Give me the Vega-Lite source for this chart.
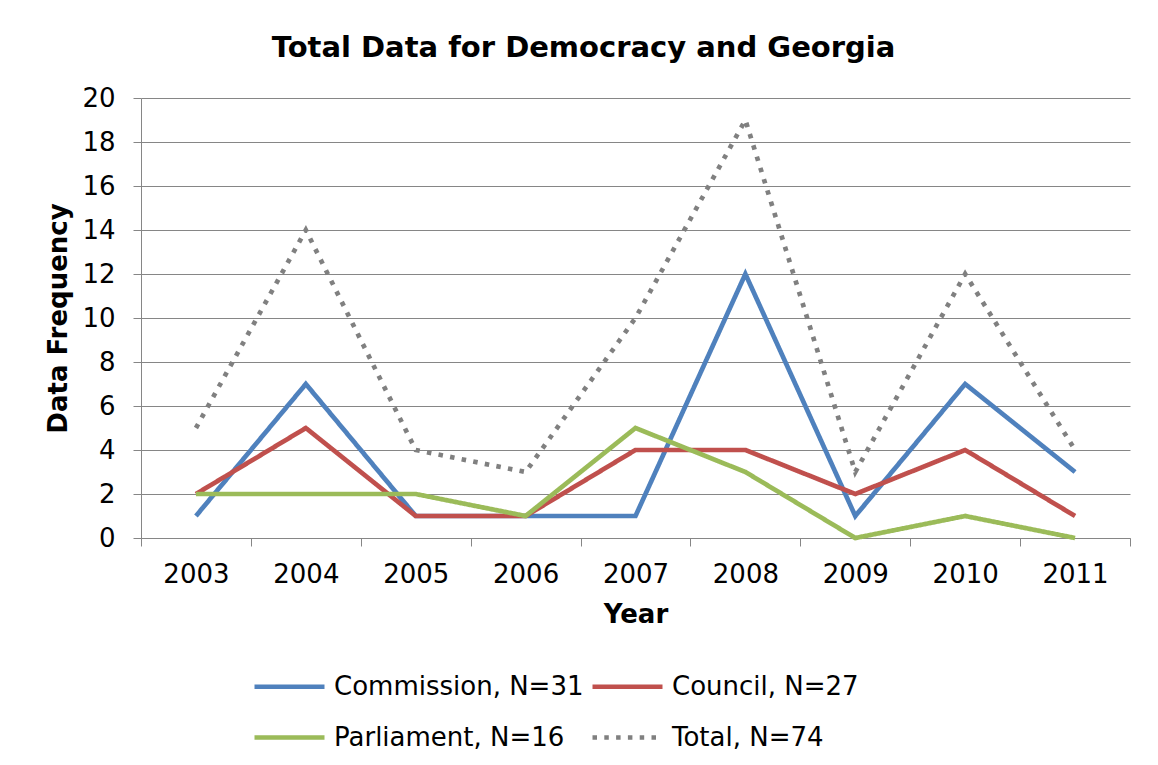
{
  "$schema": "https://vega.github.io/schema/vega-lite/v6.json",
  "width": 989,
  "height": 440,
  "autosize": {"type": "none"},
  "padding": {"left": 141, "top": 98, "right": 28, "bottom": 227},
  "background": "white",
  "title": {
    "text": "Total Data for Democracy and Georgia",
    "font": "DejaVu Sans",
    "fontSize": 29,
    "fontWeight": "bold",
    "color": "black",
    "anchor": "middle",
    "dx": -52,
    "offset": 22
  },
  "config": {
    "view": {"stroke": null},
    "font": "DejaVu Sans"
  },
  "data": {
    "values": [
      {"year": "2003", "series": "Commission, N=31", "value": 1},
      {"year": "2004", "series": "Commission, N=31", "value": 7},
      {"year": "2005", "series": "Commission, N=31", "value": 1},
      {"year": "2006", "series": "Commission, N=31", "value": 1},
      {"year": "2007", "series": "Commission, N=31", "value": 1},
      {"year": "2008", "series": "Commission, N=31", "value": 12},
      {"year": "2009", "series": "Commission, N=31", "value": 1},
      {"year": "2010", "series": "Commission, N=31", "value": 7},
      {"year": "2011", "series": "Commission, N=31", "value": 3},
      {"year": "2003", "series": "Council, N=27", "value": 2},
      {"year": "2004", "series": "Council, N=27", "value": 5},
      {"year": "2005", "series": "Council, N=27", "value": 1},
      {"year": "2006", "series": "Council, N=27", "value": 1},
      {"year": "2007", "series": "Council, N=27", "value": 4},
      {"year": "2008", "series": "Council, N=27", "value": 4},
      {"year": "2009", "series": "Council, N=27", "value": 2},
      {"year": "2010", "series": "Council, N=27", "value": 4},
      {"year": "2011", "series": "Council, N=27", "value": 1},
      {"year": "2003", "series": "Parliament, N=16", "value": 2},
      {"year": "2004", "series": "Parliament, N=16", "value": 2},
      {"year": "2005", "series": "Parliament, N=16", "value": 2},
      {"year": "2006", "series": "Parliament, N=16", "value": 1},
      {"year": "2007", "series": "Parliament, N=16", "value": 5},
      {"year": "2008", "series": "Parliament, N=16", "value": 3},
      {"year": "2009", "series": "Parliament, N=16", "value": 0},
      {"year": "2010", "series": "Parliament, N=16", "value": 1},
      {"year": "2011", "series": "Parliament, N=16", "value": 0},
      {"year": "2003", "series": "Total, N=74", "value": 5},
      {"year": "2004", "series": "Total, N=74", "value": 14},
      {"year": "2005", "series": "Total, N=74", "value": 4},
      {"year": "2006", "series": "Total, N=74", "value": 3},
      {"year": "2007", "series": "Total, N=74", "value": 10},
      {"year": "2008", "series": "Total, N=74", "value": 19},
      {"year": "2009", "series": "Total, N=74", "value": 3},
      {"year": "2010", "series": "Total, N=74", "value": 12},
      {"year": "2011", "series": "Total, N=74", "value": 4}
    ]
  },
  "mark": {"type": "line", "strokeWidth": 4.7, "strokeCap": "butt", "strokeJoin": "miter"},
  "encoding": {
    "x": {
      "field": "year",
      "type": "ordinal",
      "scale": {"type": "band", "paddingInner": 0, "paddingOuter": 0},
      "axis": {
        "title": "Year",
        "titleFont": "DejaVu Sans",
        "titleFontSize": 26,
        "titleFontWeight": "bold",
        "titleColor": "black",
        "titlePadding": 14,
        "labelFont": "DejaVu Sans",
        "labelFontSize": 26,
        "labelColor": "black",
        "labelAngle": 0,
        "labelPadding": 15,
        "tickBand": "extent",
        "tickSize": 8,
        "tickColor": "#868686",
        "domainColor": "#868686",
        "grid": false
      }
    },
    "y": {
      "field": "value",
      "type": "quantitative",
      "scale": {"domain": [0, 20], "nice": false},
      "axis": {
        "title": "Data Frequency",
        "titleFont": "DejaVu Sans",
        "titleFontSize": 26,
        "titleFontWeight": "bold",
        "titleColor": "black",
        "titlePadding": 10,
        "values": [0, 2, 4, 6, 8, 10, 12, 14, 16, 18, 20],
        "labelFont": "DejaVu Sans",
        "labelFontSize": 26,
        "labelColor": "black",
        "labelPadding": 18,
        "tickSize": 8,
        "tickColor": "#868686",
        "domainColor": "#868686",
        "grid": true,
        "gridColor": "#868686",
        "gridOpacity": 1
      }
    },
    "color": {
      "field": "series",
      "type": "nominal",
      "scale": {
        "domain": ["Commission, N=31", "Council, N=27", "Parliament, N=16", "Total, N=74"],
        "range": ["#4F81BD", "#C0504D", "#9BBB59", "#808080"]
      },
      "legend": {
        "title": null,
        "orient": "none",
        "legendX": 111,
        "legendY": 551,
        "direction": "horizontal",
        "columns": 2,
        "symbolType": "stroke",
        "symbolSize": 4900,
        "symbolStrokeWidth": 4.7,
        "labelFont": "DejaVu Sans",
        "labelFontSize": 26,
        "labelColor": "black",
        "labelOffset": 7,
        "columnPadding": -1,
        "rowPadding": -4,
        "labelLimit": 400
      }
    },
    "strokeDash": {
      "field": "series",
      "type": "nominal",
      "scale": {
        "domain": ["Commission, N=31", "Council, N=27", "Parliament, N=16", "Total, N=74"],
        "range": [[1, 0], [1, 0], [1, 0], [4.5, 7.3]]
      },
      "legend": {
        "title": null,
        "orient": "none",
        "legendX": 111,
        "legendY": 551,
        "direction": "horizontal",
        "columns": 2,
        "symbolType": "stroke",
        "symbolSize": 4900,
        "symbolStrokeWidth": 4.7,
        "labelFont": "DejaVu Sans",
        "labelFontSize": 26,
        "labelColor": "black",
        "labelOffset": 7,
        "columnPadding": -1,
        "rowPadding": -4,
        "labelLimit": 400
      }
    }
  }
}
